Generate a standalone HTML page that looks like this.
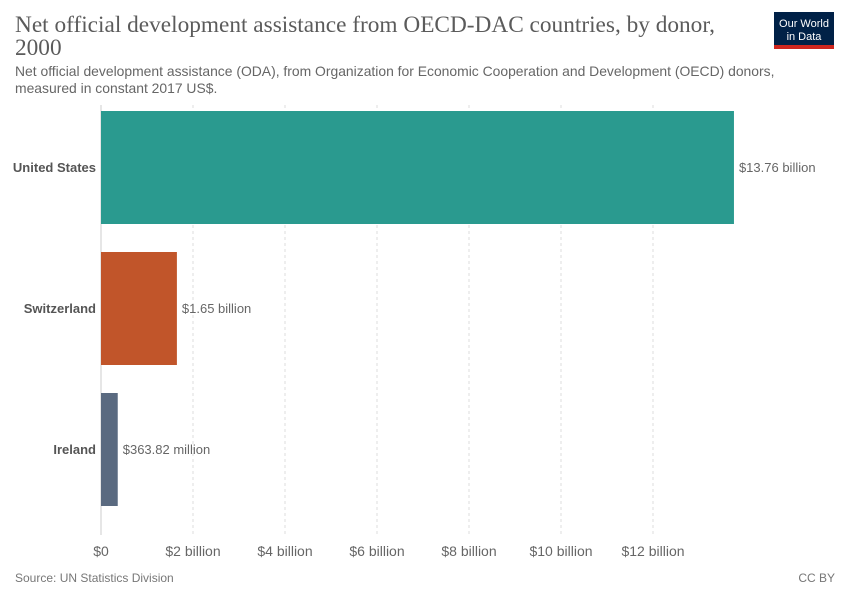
<!DOCTYPE html>
<html><head><meta charset="utf-8"><style>
body{margin:0;background:#fff;font-family:"Liberation Sans",sans-serif}
svg text{font-family:"Liberation Sans",sans-serif}
</style></head><body>
<svg width="850" height="600" viewBox="0 0 850 600">
<text x="15" y="32" font-size="23.3" fill="#5b5b5b" style="font-family:'Liberation Serif',serif">Net official development assistance from OECD-DAC countries, by donor,</text>
<text x="15" y="55" font-size="23.3" fill="#5b5b5b" style="font-family:'Liberation Serif',serif">2000</text>
<text x="15" y="76" font-size="13.9" fill="#666">Net official development assistance (ODA), from Organization for Economic Cooperation and Development (OECD) donors,</text>
<text x="15" y="93" font-size="13.9" fill="#666">measured in constant 2017 US$.</text>
<g>
<rect x="774" y="12" width="60" height="34" fill="#002147"/>
<rect x="774" y="45" width="60" height="4" fill="#ce261e"/>
<text x="804" y="27" font-size="11" fill="#fff" text-anchor="middle">Our World</text>
<text x="804" y="40" font-size="11" fill="#fff" text-anchor="middle">in Data</text>
</g>
<g id="grid"></g>
<g id="bars"></g>
<text x="15" y="582" font-size="12" fill="#777">Source: UN Statistics Division</text>
<text x="835" y="582" font-size="12" fill="#777" text-anchor="end">CC BY</text>
</svg>
<script>
const countries=["United States","Switzerland","Ireland"];
const values=[13.76,1.65,0.36382];
const labels=["$13.76 billion","$1.65 billion","$363.82 million"];
const colors=["#2a9a8f","#c1552a","#5a6a80"];
const ticks=[0,2,4,6,8,10,12];
const tickLabels=["$0","$2 billion","$4 billion","$6 billion","$8 billion","$10 billion","$12 billion"];
const NS="http://www.w3.org/2000/svg";
const x=v=>101+v*46.0;
const rowY=i=>111+i*141;
function mk(t,a,p){const e=document.createElementNS(NS,t);for(const k in a)e.setAttribute(k,a[k]);p.appendChild(e);return e;}
const g=document.getElementById('grid'),b=document.getElementById('bars');
ticks.forEach((t,i)=>{
 const l=mk('line',{x1:x(t),x2:x(t),y1:105,y2:535,stroke:t===0?'#ccc':'#ddd','stroke-dasharray':t===0?'':'3,3'},g);
 
 
 const tx=mk('text',{x:x(t),y:556,'font-size':14,fill:'#666','text-anchor':'middle'},g);tx.textContent=tickLabels[i];
 
 
});
countries.forEach((c,i)=>{
 const y=rowY(i);
 const r=mk('rect',{x:x(0),y:y,width:x(values[i])-x(0),height:113,fill:colors[i]},b);
 
 
 const n=mk('text',{x:96,y:y+61,'font-size':13,'font-weight':'bold',fill:'#555','text-anchor':'end'},b);n.textContent=c;
 
 
 const v=mk('text',{x:x(values[i])+5,y:y+61,'font-size':13,fill:'#666'},b);v.textContent=labels[i];
 
 
});
</script>
</body></html>
